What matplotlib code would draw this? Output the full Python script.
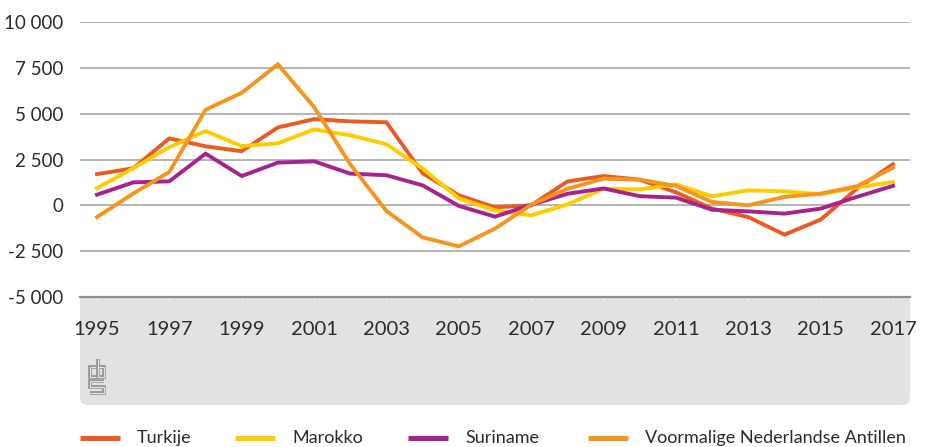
import matplotlib
matplotlib.use("Agg")
import matplotlib.pyplot as plt
from matplotlib.patches import FancyBboxPatch
from matplotlib.lines import Line2D
from matplotlib.ticker import FuncFormatter

years = list(range(1995, 2018))

turkije = [1700, 2020, 3650, 3220, 2950, 4250, 4700, 4580, 4530, 1750, 550, -110,
           0, 1300, 1600, 1400, 710, -180, -640, -1600, -780, 900, 2240]
marokko = [930, 2020, 3170, 4050, 3230, 3380, 4140, 3820, 3330, 2010, 380, -270,
           -550, 50, 900, 870, 1140, 490, 820, 760, 600, 980, 1270]
suriname = [580, 1250, 1310, 2820, 1600, 2330, 2400, 1730, 1640, 1090, -30, -620,
            30, 630, 920, 500, 420, -240, -330, -450, -180, 460, 1060]
antillen = [-640, 640, 1820, 5210, 6140, 7690, 5360, 2240, -310, -1750, -2240, -1270,
            30, 900, 1450, 1400, 1060, 180, 0, 460, 640, 1040, 2050]

series_names = ["Turkije", "Marokko", "Suriname", "Voormalige Nederlandse Antillen"]
series_colors = ["#EA5A23", "#FFCC00", "#A6228E", "#F7941D"]
xtick_years = list(range(1995, 2018, 2))
yticks = [-5000, -2500, 0, 2500, 5000, 7500, 10000]

plt.rcParams["font.family"] = ["Lato", "DejaVu Sans"]

W, H = 929, 447
BAND = "#E1E2E4"
fig = plt.figure(figsize=(W / 100, H / 100), dpi=100)

# grey band under the plot (pixel coordinates)
band = FancyBboxPatch((80, H - 405), 830, 140, boxstyle="round,pad=0,rounding_size=8",
                      transform=None, facecolor=BAND, edgecolor="none", zorder=-1)
fig.patches.append(band)

ax = fig.add_axes([80 / W, 1 - 297 / H, 830 / W, (297 - 22) / H])
ax.set_facecolor("white")

for vals, name, col in zip([turkije, marokko, suriname, antillen], series_names, series_colors):
    ax.plot(years, vals, color=col, lw=2.8, label=name, solid_joinstyle="miter", zorder=3)

ax.set_xlim(1994.53, 2017.47)
ax.set_ylim(-5000, 10000)
ax.set_yticks(yticks)
ax.set_xticks(xtick_years)
ax.yaxis.set_major_formatter(FuncFormatter(lambda v, p: format(int(v), ",").replace(",", " ")))
ax.grid(axis="y", color="#A8A8A8", lw=1.2, zorder=1)
ax.set_axisbelow(True)
for s in ["top", "right", "left"]:
    ax.spines[s].set_visible(False)
ax.spines["bottom"].set_color("#909090")
ax.spines["bottom"].set_linewidth(1.6)
ax.tick_params(axis="y", length=0, pad=12, labelsize=13.5, labelcolor="#2b2b2b")
ax.tick_params(axis="x", length=3, color="#F2F2F2", pad=14, labelsize=14.5,
               labelcolor="#2b2b2b")

# cbs logo, outlined strokes
logo = [
    [(96, 367), (90, 367), (90, 377), (96, 377)],
    [(98, 359), (98, 377), (104, 377), (104, 367), (98, 367)],
    [(104, 381), (90, 381), (90, 387), (104, 387), (104, 393), (90, 393)],
]
for pts in logo:
    xs = [p[0] for p in pts]
    ys = [H - p[1] for p in pts]
    fig.add_artist(Line2D(xs, ys, transform=None, color="#8E8E8E", lw=2.6,
                          solid_joinstyle="miter", solid_capstyle="butt"))
    fig.add_artist(Line2D(xs, ys, transform=None, color=BAND, lw=0.9,
                          solid_joinstyle="miter", solid_capstyle="butt"))

# legend along the bottom
leg_x = [80, 235, 408, 588]
for x0, name, col in zip(leg_x, series_names, series_colors):
    fig.add_artist(Line2D([x0, x0 + 40], [H - 438, H - 438], transform=None,
                          color=col, lw=3.6, solid_capstyle="butt"))
    fig.text((x0 + 57) / W, 1 - 438 / H, name, fontsize=13, color="#2b2b2b",
             va="center", ha="left")

fig.savefig("out.png", dpi=100)
